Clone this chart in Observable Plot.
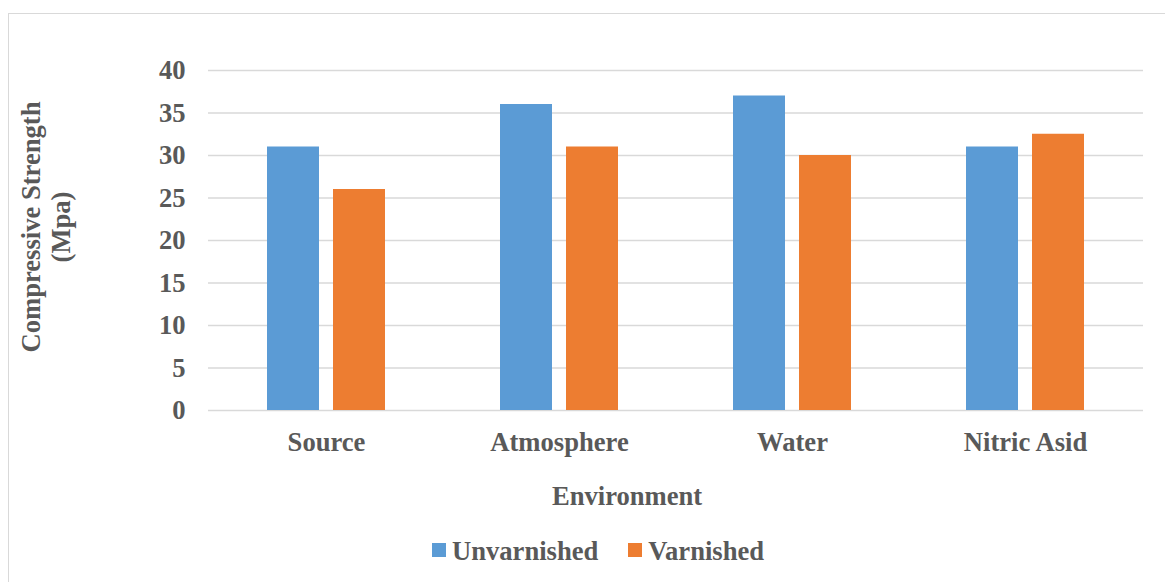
<!DOCTYPE html>
<html>
<head>
<meta charset="utf-8">
<script src="https://cdn.jsdelivr.net/npm/d3@7"></script>
<script src="https://cdn.jsdelivr.net/npm/@observablehq/plot@0.6"></script>
<style>
  html, body { margin: 0; padding: 0; background: #fff; overflow: hidden; }
  body { width: 1165px; height: 582px; position: relative; }
  .serif { font-family: "Liberation Serif", "Times New Roman", serif; font-weight: bold; font-size: 26.6px; color: #595959; line-height: 26px; }
  #frame { position: absolute; left: 8px; top: 13px; width: 1300px; height: 700px; border: 1.5px solid #d9d9d9; box-sizing: border-box; }
  #chart { position: absolute; left: 0; top: 0; }
  #ytitle { position: absolute; left: -104px; top: 197px; width: 300px; height: 60px; line-height: 30px; text-align: center; transform: rotate(-90deg); white-space: nowrap; }
  #xtitle { position: absolute; left: 552px; top: 483px; white-space: nowrap; }
  #legend { position: absolute; left: 432px; top: 538px; display: flex; align-items: flex-start; white-space: nowrap; }
  .item { display: flex; align-items: flex-start; }
  .swatch { width: 14px; height: 14px; margin-top: 5px; margin-right: 6px; }
</style>
</head>
<body>
<div id="frame"></div>
<div id="chart"></div>
<div id="ytitle" class="serif">Compressive Strength<br>(Mpa)</div>
<div id="xtitle" class="serif">Environment</div>
<div id="legend" class="serif"></div>
<script>
// Compressive strength by exposure environment
const categories = ["Source", "Atmosphere", "Water", "Nitric Asid"];
const series = ["Unvarnished", "Varnished"];
const unvarnished = [31, 36, 37, 31];
const varnished = [26, 31, 30, 32.5];
const yTicks = [0, 5, 10, 15, 20, 25, 30, 35, 40];
const colors = ["#5B9BD5", "#ED7D31"];

const rows = categories.flatMap((env, i) => [
  {env, series: series[0], value: unvarnished[i]},
  {env, series: series[1], value: varnished[i]}
]);

const chart = Plot.plot({
  width: 1165,
  height: 470,
  marginLeft: 208,
  marginRight: 22,
  marginTop: 70,
  marginBottom: 60,
  style: {
    fontFamily: "'Liberation Serif', 'Times New Roman', serif",
    fontWeight: "bold",
    fontSize: "26.6px",
    color: "#595959",
    background: "transparent",
    overflow: "visible"
  },
  x: {domain: categories, paddingInner: 0.4915, paddingOuter: 0.2457},
  y: {domain: [0, 40]},
  color: {domain: series, range: colors},
  marks: [
    Plot.ruleY(yTicks, {stroke: "#d9d9d9", strokeWidth: 1.5}),
    Plot.barY(rows.filter(d => d.series === series[0]), {x: "env", y: "value", fill: "series", insetRight: 66}),
    Plot.barY(rows.filter(d => d.series === series[1]), {x: "env", y: "value", fill: "series", insetLeft: 66}),
    Plot.axisY(yTicks, {tickSize: 0, tickPadding: 23, label: null}),
    Plot.axisX({tickSize: 0, tickPadding: 22, label: null})
  ]
});
document.getElementById("chart").appendChild(chart);

// Legend below the chart
const legend = document.getElementById("legend");
series.forEach((name, i) => {
  const item = document.createElement("div");
  item.className = "item";
  if (i > 0) item.style.marginLeft = "30px";
  const sw = document.createElement("div");
  sw.className = "swatch";
  sw.style.background = colors[i];
  const label = document.createElement("span");
  label.textContent = name;
  item.appendChild(sw);
  item.appendChild(label);
  legend.appendChild(item);
});
</script>
</body>
</html>
